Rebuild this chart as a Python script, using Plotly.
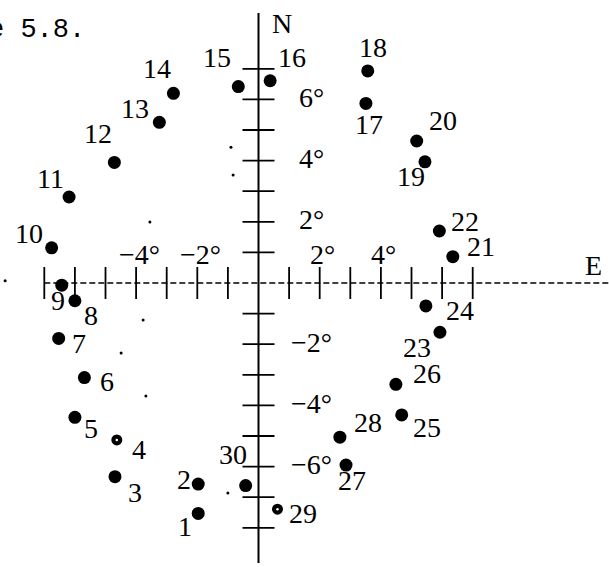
import plotly.graph_objects as go

# Star positions (degrees east / north of the field centre), numbered 1..30
point_ids = list(range(1, 31))
east = [-1.97, -1.97, -4.69, -4.63, -6.00, -5.69, -6.53, -6.00, -6.43, -6.76,
        -6.19, -4.71, -3.24, -2.78, -0.66, 0.38, 3.51, 3.57, 5.44, 5.17,
        6.35, 5.91, 5.93, 5.47, 4.68, 4.49, 2.86, 2.66, 0.62, -0.42]
north = [-7.53, -6.57, -6.33, -5.13, -4.39, -3.09, -1.81, -0.58, -0.07, 1.15,
         2.81, 3.94, 5.25, 6.20, 6.42, 6.61, 5.87, 6.93, 3.96, 4.64,
         0.86, 1.70, -1.61, -0.75, -4.31, -3.31, -5.95, -5.04, -7.39, -6.62]
faint_ids = [4, 29]

# Small printing specks in the field
speck_east = [-0.90, -0.83, -3.55, -3.77, -4.49, -3.68, -1.00, -8.28]
speck_north = [4.44, 3.53, 1.99, -1.21, -2.29, -3.69, -6.86, 0.07]

# Axis graduations (degrees)
x_ticks = list(range(-7, 8))
y_ticks = list(range(-8, 8))
x_tick_labels = {-4: "−4°", -2: "−2°", 2: "2°", 4: "4°"}
y_tick_labels = {6: "6°", 4: "4°", 2: "2°", -2: "−2°", -4: "−4°", -6: "−6°"}

# Layout constants (pixels)
W, H = 609, 567
PX = 30.6            # pixels per degree
OX, OY = 258.5, 283  # pixel position of the origin
TICK_HALF = 16

# Label offsets relative to each dot, in pixels (dx right, dy down)
label_offsets = {
    1: (-13, 13), 2: (-14, -5), 3: (20, 16), 4: (22, 10), 5: (16, 11),
    6: (23, 4), 7: (20, 5), 8: (16, 15), 9: (-4, 15), 10: (-23, -14),
    11: (-19, -19), 12: (-16, -29), 13: (-24, -14), 14: (-16, -25), 15: (-21, -29),
    16: (22, -23), 17: (3, 21), 18: (5, -23), 19: (-14, 15), 20: (26, -21),
    21: (28, -10), 22: (26, -9), 23: (-23, 15), 24: (34, 5), 25: (25, 13),
    26: (31, -11), 27: (6, 15), 28: (28, -15), 29: (26, 4), 30: (-13, -31),
}

x_range = [-OX / PX, (W - OX) / PX]
y_range = [(OY - H) / PX, OY / PX]
half = TICK_HALF / PX

SERIF = "Liberation Serif"
FS = 28

fig = go.Figure()

shapes = []
# Vertical (N) axis
shapes.append(dict(type="line", xref="x", yref="y", x0=0, x1=0,
                   y0=(OY - 563) / PX, y1=(OY - 13) / PX,
                   line=dict(color="black", width=2)))
# Horizontal (E) axis, broken print line
shapes.append(dict(type="line", xref="x", yref="y", x0=x_ticks[0], x1=x_range[1],
                   y0=0, y1=0, line=dict(color="black", width=1.5, dash="6px,3px")))
for t in x_ticks:
    if t == 0:
        continue
    shapes.append(dict(type="line", xref="x", yref="y", x0=t, x1=t,
                       y0=-half, y1=half, line=dict(color="black", width=1.8)))
for t in y_ticks:
    if t == 0:
        continue
    shapes.append(dict(type="line", xref="x", yref="y", x0=-half, x1=half,
                       y0=t, y1=t, line=dict(color="black", width=1.8)))

# Stars
solid = [i for i in point_ids if i not in faint_ids]
fig.add_trace(go.Scatter(
    x=[east[i - 1] for i in solid], y=[north[i - 1] for i in solid],
    mode="markers", marker=dict(color="black", size=13, line=dict(width=0)),
    hoverinfo="skip", showlegend=False))
fig.add_trace(go.Scatter(
    x=[east[i - 1] for i in faint_ids], y=[north[i - 1] for i in faint_ids],
    mode="markers", marker=dict(color="black", size=11, line=dict(width=0)),
    hoverinfo="skip", showlegend=False))
fig.add_trace(go.Scatter(
    x=[east[i - 1] for i in faint_ids], y=[north[i - 1] for i in faint_ids],
    mode="markers", marker=dict(color="white", size=2.5, line=dict(width=0)),
    hoverinfo="skip", showlegend=False))
fig.add_trace(go.Scatter(
    x=speck_east, y=speck_north, mode="markers",
    marker=dict(color="black", size=3, line=dict(width=0)),
    hoverinfo="skip", showlegend=False))

annotations = []
for i in point_ids:
    dx, dy = label_offsets[i]
    annotations.append(dict(x=east[i - 1], y=north[i - 1], xref="x", yref="y",
                            text=str(i), showarrow=False, xshift=dx, yshift=-dy,
                            font=dict(family=SERIF, size=FS, color="black")))
for t, txt in x_tick_labels.items():
    annotations.append(dict(x=t, y=0, xref="x", yref="y", text=txt, showarrow=False,
                            xshift=3, yshift=29,
                            font=dict(family=SERIF, size=FS, color="black")))
for t, txt in y_tick_labels.items():
    annotations.append(dict(x=0, y=t, xref="x", yref="y", text=txt, showarrow=False,
                            xshift=53, yshift=2,
                            font=dict(family=SERIF, size=FS, color="black")))
annotations.append(dict(x=0, y=(OY - 23) / PX, xref="x", yref="y", text="N",
                        showarrow=False, xshift=23,
                        font=dict(family=SERIF, size=FS, color="black")))
annotations.append(dict(x=(593 - OX) / PX, y=0, xref="x", yref="y", text="E",
                        showarrow=False, yshift=18,
                        font=dict(family=SERIF, size=FS, color="black")))
annotations.append(dict(x=87 / W, y=1 - 30 / H, xref="paper", yref="paper",
                        text="Figure 5.8.", showarrow=False,
                        xanchor="right", yanchor="middle",
                        font=dict(family="Liberation Mono", size=27, color="black")))

fig.update_layout(
    width=W, height=H, margin=dict(l=0, r=0, t=0, b=0),
    paper_bgcolor="white", plot_bgcolor="white",
    xaxis=dict(range=x_range, visible=False, fixedrange=True),
    yaxis=dict(range=y_range, visible=False, fixedrange=True),
    shapes=shapes, annotations=annotations, showlegend=False,
)

fig.write_html("out.html")
